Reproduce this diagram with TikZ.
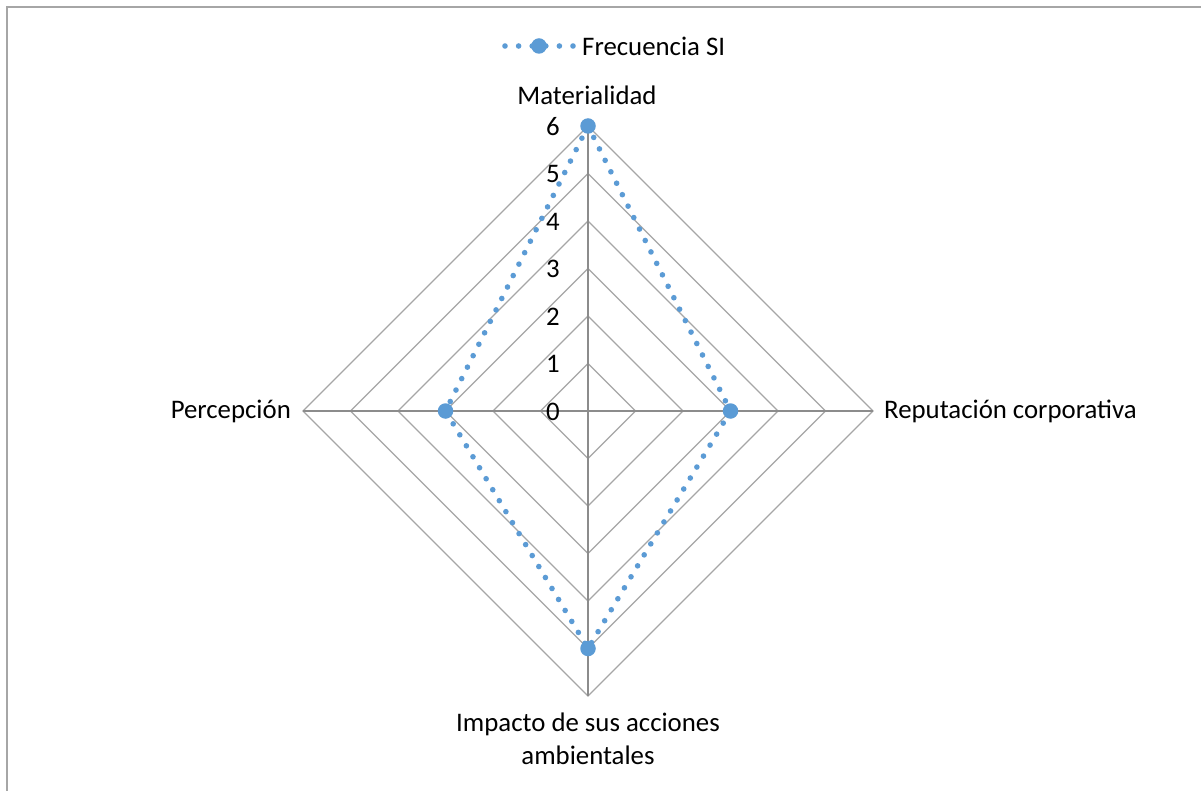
\documentclass[tikz,border=0pt]{standalone}
\usepackage{fontspec}
\setmainfont{Carlito}
\definecolor{sblue}{HTML}{5B9BD5}
\definecolor{gridgray}{HTML}{A6A6A6}
\definecolor{spokegray}{HTML}{8C8C8C}
\definecolor{framegray}{HTML}{A6A6A6}
\begin{document}
\begin{tikzpicture}[x=1pt,y=-1pt,
  lbl/.style={font=\fontsize{26.8}{33}\selectfont, inner sep=0pt, text=black},
  gridline/.style={draw=gridgray, line width=1.3pt},
  spoke/.style={draw=spokegray, line width=1.6pt},
  series/.style={draw=sblue, line width=5.6pt, line cap=round, dash pattern=on 0pt off 12.8pt},
  marker/.style={circle, fill=sblue, draw=none, inner sep=0pt, minimum size=15.5pt}]
\useasboundingbox (0,0) rectangle (1201,791);
\fill[white] (0,0) rectangle (1201,791);
% frame (right and bottom edges lie outside the picture)
\draw[draw=framegray, line width=1.6pt] (6.8,791) -- (6.8,6.8) -- (1201,6.8);
% centre
\coordinate (C) at (588,411);
% grid diamonds
\foreach \r in {1,...,6}{
  \draw[gridline] (588,{411-47.5*\r}) -- ({588+47.5*\r},411) -- (588,{411+47.5*\r}) -- ({588-47.5*\r},411) -- cycle;
}
% spokes
\coordinate (eM) at (588,126);
\coordinate (eR) at (873,411);
\coordinate (eI) at (588,696);
\coordinate (eP) at (303,411);
\draw[spoke] (C) -- (eM);
\draw[spoke] (C) -- (eR);
\draw[spoke] (C) -- (eI);
\draw[spoke] (C) -- (eP);
% tick labels
\foreach \v in {0,...,6}{
  \node[lbl] (t\v) at (553,{411.5-47.5*\v}) {\v};
}
% data series
\coordinate (dM) at (588,126);
\coordinate (dR) at (730.5,411);
\coordinate (dI) at (588,648.5);
\coordinate (dP) at (445.5,411);
\draw[series] (dM) -- (dR) -- (dI) -- (dP) -- cycle;
\node[marker] (pM) at (dM) {};
\node[marker] (pR) at (dR) {};
\node[marker] (pI) at (dI) {};
\node[marker] (pP) at (dP) {};
% axis labels
\node[lbl, anchor=base] (aM) at (587,105) {Materialidad};
\node[lbl, anchor=west] (aR) at (884,411) {Reputación corporativa};
\node[lbl, anchor=east] (aP) at (291,411) {Percepción};
\node[lbl, align=center, anchor=north] (aI) at (588,713) {Impacto de sus acciones\\ambientales};
% legend
\coordinate (l1) at (505,46);
\coordinate (l2) at (573,46);
\draw[series, dash pattern=on 0pt off 13.6pt] (l1) -- (l2);
\node[marker] (lm) at (539,46) {};
\node[lbl, anchor=west] (lt) at (582,46) {Frecuencia SI};
\end{tikzpicture}
\end{document}
